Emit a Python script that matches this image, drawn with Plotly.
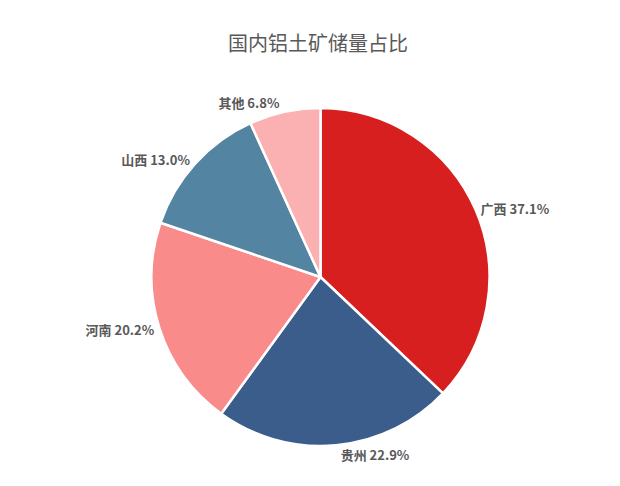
import plotly.graph_objects as go

labels = ["广西", "贵州", "河南", "山西", "其他"]
values = [37.1, 22.9, 20.2, 13.0, 6.8]
colors = ["#d71f1f", "#3a5d8b", "#f98b8b", "#5384a1", "#fbb1b1"]

texts = [f"{l} {v:.1f}%" for l, v in zip(labels, values)]

fig = go.Figure(go.Pie(
    labels=labels, values=values, text=texts, textinfo="text",
    textposition="outside", sort=False, direction="clockwise", rotation=0,
    marker=dict(colors=colors, line=dict(color="white", width=2.5)),
    textfont=dict(family="Noto Sans CJK SC", size=13, color="#595959", weight="bold"),
    showlegend=False, hoverinfo="label+value",
))
fig.update_layout(
    width=620, height=486,
    margin=dict(l=30, r=50, t=100, b=48),
    paper_bgcolor="white",
    title=dict(text="国内铝土矿储量占比", x=0.5, y=0.926, xanchor="center", yanchor="middle",
               font=dict(family="Noto Sans CJK SC", size=20, color="#595959")),
)
fig.write_html("out.html")
